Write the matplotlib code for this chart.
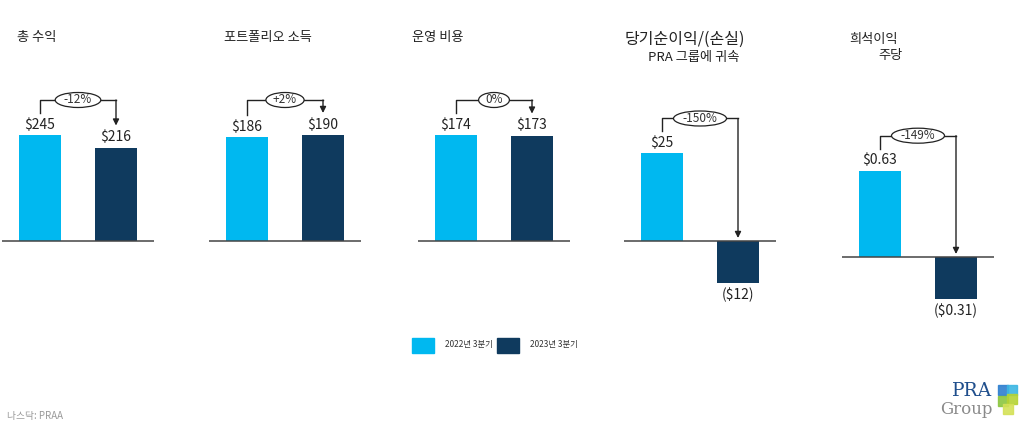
import matplotlib.pyplot as plt
from matplotlib.patches import Rectangle, Ellipse

plt.rcParams['font.family'] = ['Noto Sans CJK KR', 'DejaVu Sans']

# data
titles = ['총 수익', '포트폴리오 소득', '운영 비용', '당기순이익/(손실)', '희석이익']
subtitles = ['', '', '', 'PRA 그룹에 귀속', '주당']
q3_2022 = [245, 186, 174, 25, 0.63]
q3_2023 = [216, 190, 173, -12, -0.31]
decimals = [0, 0, 0, 0, 2]
changes = ['-12%', '+2%', '0%', '-150%', '-149%']
legend_labels = ['2022년 3분기', '2023년 3분기']

LIGHT = '#00B8F0'
DARK = '#0F3A5E'

W, H = 1024, 426
fig = plt.figure(figsize=(W / 100, H / 100), dpi=100)


def fx(x):
    return x / W


def fy(y):
    return 1 - y / H


def fmt(v, d):
    s = f'${abs(v):.{d}f}'
    return f'({s})' if v < 0 else s


# layout per panel (pixels): left edge of axis line, baseline row, px per unit
lefts = [2, 209, 418, 624, 842]
baselines = [241, 241, 241, 241, 257]
scales = [106 / 245, 106 / 190, 106 / 174, 3.5, 137]
top_px, bot_px = 60, 330
unit_px = 76  # px between the two bars

for i in range(5):
    s = scales[i]
    b = baselines[i]
    ax = fig.add_axes([fx(lefts[i]), fy(bot_px), fx(152), (bot_px - top_px) / H])
    ax.set_xlim(-0.5, 1.5)
    ax.set_ylim(-(bot_px - b) / s, (b - top_px) / s)
    ax.axis('off')
    v0, v1 = q3_2022[i], q3_2023[i]
    ax.bar([0, 1], [v0, v1], width=0.55, color=[LIGHT, DARK])
    ax.axhline(0, color='#444444', lw=1.1)

    for x, v in ((0, v0), (1, v1)):
        if v >= 0:
            ax.annotate(fmt(v, decimals[i]), (x, v), xytext=(0, 2.5),
                        textcoords='offset points', ha='center', va='bottom',
                        fontsize=10, color='#222222')
        else:
            ax.annotate(fmt(v, decimals[i]), (x, v), xytext=(0, -3),
                        textcoords='offset points', ha='center', va='top',
                        fontsize=10, color='#222222')

    # bracket with change label
    ytop = (max(v0, v1, 0) * s + 35) / s
    ystart = (v0 * s + 22) / s
    ytip = (v1 * s + 22) / s if v1 >= 0 else 3 / s
    ax.plot([0, 0, 1], [ystart, ytop, ytop], color='#222222', lw=1, clip_on=False)
    ax.annotate('', xy=(1, ytip), xytext=(1, ytop),
                arrowprops=dict(arrowstyle='-|>', color='#222222', lw=1,
                                mutation_scale=9, shrinkA=0, shrinkB=0),
                annotation_clip=False)
    ew = 16 + 7.4 * len(changes[i])
    ax.add_patch(Ellipse((0.5, ytop), ew / unit_px, 15 / s, fc='white',
                         ec='#222222', lw=0.9, clip_on=False, zorder=3))
    ax.text(0.5, ytop, changes[i], ha='center', va='center', fontsize=8.5,
            color='#333333', zorder=4)

# titles
fig.text(fx(17), fy(37), titles[0], fontsize=9.5, va='center', color='#222222')
fig.text(fx(224), fy(37), titles[1], fontsize=9.5, va='center', color='#222222')
fig.text(fx(412), fy(37), titles[2], fontsize=9.5, va='center', color='#222222')
fig.text(fx(625), fy(39), titles[3], fontsize=11.5, va='center', color='#222222')
fig.text(fx(648), fy(57), subtitles[3], fontsize=9.5, va='center', color='#222222')
fig.text(fx(849), fy(39), titles[4], fontsize=9.5, va='center', color='#222222')
fig.text(fx(878), fy(56), subtitles[4], fontsize=9.5, va='center', color='#222222')

# legend
for x0, c, lab in ((412, LIGHT, legend_labels[0]), (497, DARK, legend_labels[1])):
    fig.patches.append(Rectangle((fx(x0), fy(353)), fx(22), 15 / H, color=c,
                                 transform=fig.transFigure))
    fig.text(fx(x0 + 33), fy(345), lab, fontsize=6, va='center', color='#333333')

# footer
fig.text(fx(7), fy(416), '나스닥: PRAA', fontsize=7, va='center', color='#9a9a9a')

# logo
fig.text(fx(992), fy(391), 'PRA', fontsize=13.5, ha='right', va='center',
         family='DejaVu Serif', color='#1F4E8C')
fig.text(fx(993), fy(409), 'Group', fontsize=12, ha='right', va='center',
         family='DejaVu Serif', color='#8A8A8A')
for (x0, y0, c) in ((998, 385, '#2E7FCF'), (1007, 385, '#3CB6E3'),
                    (998, 396, '#8CC63F'), (1007, 394, '#B5D334'),
                    (1003, 404, '#D4E157')):
    fig.patches.append(Rectangle((fx(x0), fy(y0 + 10)), fx(10), 10 / H, color=c,
                                 alpha=0.9, transform=fig.transFigure))

fig.savefig('out.png', dpi=100)
